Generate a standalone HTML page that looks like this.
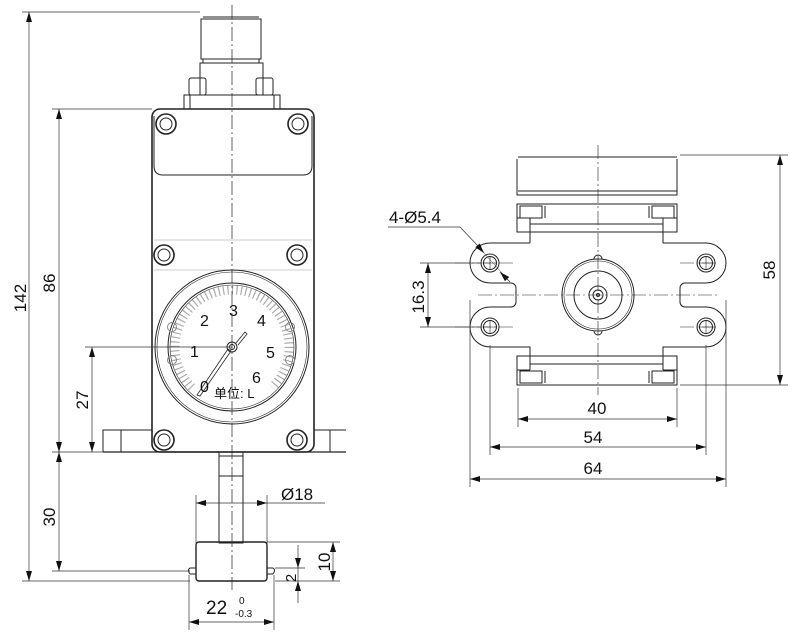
<!DOCTYPE html>
<html><head><meta charset="utf-8"><style>
html,body{margin:0;padding:0;background:#fff;}
svg{display:block;}
text{font-family:"Liberation Sans","Noto Sans CJK SC",sans-serif;fill:#111;}
</style></head><body>
<svg width="800" height="640" viewBox="0 0 800 640" xmlns="http://www.w3.org/2000/svg">
<defs>
<marker id="a" viewBox="0 0 10 6" refX="10" refY="3" markerWidth="10" markerHeight="6" orient="auto-start-reverse" markerUnits="userSpaceOnUse"><path d="M0,0 L10,3 L0,6 z" fill="#111"/></marker>
</defs>
<g fill="none" stroke="#222" stroke-width="1">
<!-- connector -->
<path d="M203,17 h56 M201,19 h60 v40 h-60 z M203,59 v4 h56 v-4" />
<rect x="200" y="63" width="63" height="32"/>
<rect x="189" y="78" width="17" height="17" rx="2"/>
<rect x="256" y="78" width="17" height="17" rx="2"/>
<rect x="184" y="95" width="96" height="14"/>
<path d="M190,95 v14 M274,95 v14"/>
<!-- body -->
<rect x="152" y="109" width="162" height="343" rx="8" stroke-width="1.6"/>
<path d="M154,116 v50 q0,9 9,9 h140 q9,0 9,-9 v-50" />
<path d="M154,240 h158 M154,270 h158" stroke="#999" stroke-width="0.6"/>
<!-- feet -->
<path d="M152,430 h-49 v22 M121,430 v22 M314,430 h32 M330,430 v22"/>
<path d="M103,452 h243" stroke-width="1.2"/>
<!-- screws -->
<g>
<circle cx="166" cy="124" r="10" stroke-width="1.6"/><circle cx="166" cy="124" r="6"/>
<circle cx="298" cy="124" r="10" stroke-width="1.6"/><circle cx="298" cy="124" r="6"/>
<circle cx="164" cy="255" r="10" stroke-width="1.6"/><circle cx="164" cy="255" r="6"/>
<circle cx="297" cy="255" r="10" stroke-width="1.6"/><circle cx="297" cy="255" r="6"/>
<circle cx="164" cy="440" r="10" stroke-width="1.6"/><circle cx="164" cy="440" r="6"/>
<circle cx="297" cy="440" r="10" stroke-width="1.6"/><circle cx="297" cy="440" r="6"/>
</g>
<!-- gauge -->
<circle cx="232" cy="347" r="77"/>
<circle cx="232" cy="347" r="75" stroke-width="0.6"/>
<circle cx="232" cy="347" r="64"/>
<circle cx="232" cy="347" r="62" stroke-width="0.6"/>
<path d="M191.7,387.3 A57,57 0 1 1 272.3,387.3" stroke="#aaa" stroke-width="9" pathLength="270" stroke-dasharray="1.2 3.3"/>
<circle cx="172" cy="327" r="4.5" stroke="#888"/><circle cx="172" cy="360" r="4.5" stroke="#888"/>
<circle cx="290" cy="327" r="4.5" stroke="#888"/><circle cx="290" cy="360" r="4.5" stroke="#888"/>
<path d="M228,349 L197,395 L200,396 L231,351 z" stroke-width="0.8"/>
<path d="M236,343 L245,332 L247,334 L238,345" stroke-width="0.8"/>
<circle cx="232" cy="347" r="5"/><circle cx="232" cy="347" r="2.5"/>
<!-- shaft & knob -->
<rect x="219" y="452" width="24" height="91"/>
<path d="M219,456 h24 M219,476 h24"/>
<rect x="196" y="542" width="71" height="39" rx="3" stroke-width="1.4"/>
<path d="M196,568 h-6 q-3,2 0,6 h6 M267,568 h6 q3,2 0,6 h-6"/>
<path d="M232,5 V590" stroke-dasharray="14 3 2 3" stroke-width="0.7"/>
<!-- ===== RIGHT VIEW ===== -->
<path d="M518,157 h159 M517,159 v36 h160 v-36" />
<path d="M518,191 h159"/>
<rect x="517" y="204" width="160" height="28"/>
<path d="M530,224 h133"/>
<path d="M517,218 h13 v25 M677,218 h-14 v25"/>
<rect x="520" y="206" width="22" height="12"/><rect x="652" y="206" width="22" height="12"/>
<path d="M542,206 v12 M545,206 v12 M649,206 v12"/>
<!-- plate -->
<path d="M530,243 H490 A20,20 0 0 0 490,283 H511 A5,5 0 0 1 516,288 V302 A5,5 0 0 1 511,307 H490 A20,20 0 0 0 490,347 H530 V370"/>
<path d="M663,243 H706 A20,20 0 0 1 706,283 H685 A5,5 0 0 0 680,288 V302 A5,5 0 0 0 685,307 H706 A20,20 0 0 1 706,347 H663 V370"/>
<rect x="517" y="356" width="160" height="29"/>
<path d="M530,364 h133 M517,370 h13 M677,370 h-14"/>
<rect x="520" y="371" width="22" height="12"/><rect x="652" y="371" width="22" height="12"/>
<path d="M542,371 v12 M545,371 v12 M649,371 v12"/>
<!-- holes -->
<g>
<circle cx="490" cy="263" r="9"/><circle cx="490" cy="263" r="6.5"/>
<circle cx="490" cy="327" r="9"/><circle cx="490" cy="327" r="6.5"/>
<circle cx="706" cy="263" r="9"/><circle cx="706" cy="263" r="6.5"/>
<circle cx="706" cy="327" r="9"/><circle cx="706" cy="327" r="6.5"/>
<path d="M483,263 h14 M490,256 v14 M483,327 h14 M490,320 v14 M699,263 h14 M706,256 v14 M699,327 h14 M706,320 v14" stroke-width="0.6"/>
</g>
<circle cx="598" cy="295" r="36"/><circle cx="598" cy="295" r="34" stroke-width="0.6"/>
<circle cx="598" cy="295" r="24"/><circle cx="598" cy="295" r="9"/><circle cx="598" cy="295" r="5"/><circle cx="598" cy="295" r="1.5"/>
<path d="M594,259 a4,4 0 0 1 8,0 M594,331 a4,4 0 0 0 8,0"/>
<path d="M598,145 V395 M478,295 H720 M455,263 H515 M455,327 H515 M680,263 H718 M680,327 H718" stroke-dasharray="14 3 2 3" stroke-width="0.6"/>
</g>
<!-- ===== DIMENSIONS ===== -->
<g fill="none" stroke="#333" stroke-width="0.7">
<path d="M22,12 H200 M22,581 H190 M52,109 H152 M52,452 H103 M85,347 H232 M52,571 H190"/>
<path d="M29,12 V581" marker-start="url(#a)" marker-end="url(#a)"/>
<path d="M59,109 V452" marker-start="url(#a)" marker-end="url(#a)"/>
<path d="M92,347 V452" marker-start="url(#a)" marker-end="url(#a)"/>
<path d="M59,452 V571" marker-start="url(#a)" marker-end="url(#a)"/>
<path d="M196,495 V545 M267,495 V545"/>
<path d="M196,503 H267" marker-start="url(#a)" marker-end="url(#a)"/>
<path d="M267,503 H325"/>
<path d="M189,575 V630 M274,575 V630"/>
<path d="M189,622 H274" marker-start="url(#a)" marker-end="url(#a)"/>
<path d="M267,542 H340 M275,568 H305 M275,581 H340"/>
<path d="M333,542 V581" marker-start="url(#a)" marker-end="url(#a)"/>
<path d="M298,545 V568" marker-end="url(#a)"/><path d="M298,603 V581" marker-end="url(#a)"/>
<path d="M298,568 V581"/>
<path d="M680,155 H788 M680,385 H788"/>
<path d="M780,155 V385" marker-start="url(#a)" marker-end="url(#a)"/>
<path d="M420,263 H480 M420,327 H480"/>
<path d="M428,263 V327" marker-start="url(#a)" marker-end="url(#a)"/>
<path d="M518,388 V427 M677,388 V427 M490,345 V455 M706,345 V455 M470,300 V487 M726,300 V487"/>
<path d="M518,419 H677" marker-start="url(#a)" marker-end="url(#a)"/>
<path d="M490,447 H706" marker-start="url(#a)" marker-end="url(#a)"/>
<path d="M470,479 H726" marker-start="url(#a)" marker-end="url(#a)"/>
<path d="M388,227 H460 L478,246" />
<path d="M478,246 L484,253" marker-end="url(#a)"/>
<path d="M510,282 L500,272" marker-end="url(#a)"/>
<path d="M484,253 L510,282" stroke-width="0.5"/>
</g>
<g font-size="17">
<text transform="translate(26,298) rotate(-90)" text-anchor="middle">142</text>
<text transform="translate(55,283) rotate(-90)" text-anchor="middle">86</text>
<text transform="translate(88,400) rotate(-90)" text-anchor="middle">27</text>
<text transform="translate(55,517) rotate(-90)" text-anchor="middle">30</text>
<text x="281" y="500">Ø18</text>
<text x="206" y="614" font-size="19">22</text>
<text transform="translate(296,578) rotate(-90)" text-anchor="middle" font-size="15">2</text>
<text transform="translate(330,562) rotate(-90)" text-anchor="middle">10</text>
<text transform="translate(775,270) rotate(-90)" text-anchor="middle">58</text>
<text transform="translate(424,297) rotate(-90)" text-anchor="middle">16.3</text>
<text x="597" y="414" text-anchor="middle">40</text>
<text x="593" y="443" text-anchor="middle">54</text>
<text x="593" y="474" text-anchor="middle">64</text>
<text x="389" y="223">4-Ø5.4</text>
</g>
<text x="239" y="604" font-size="10">0</text>
<text x="235" y="617" font-size="10">-0.3</text>
<g font-size="16">
<text x="229" y="316">3</text>
<text x="200" y="326">2</text>
<text x="257" y="326">4</text>
<text x="190" y="357">1</text>
<text x="266" y="358">5</text>
<text x="200" y="392">0</text>
<text x="252" y="383">6</text>
</g>
<text x="214" y="398" font-size="13">单位: L</text>
</svg>
</body></html>
